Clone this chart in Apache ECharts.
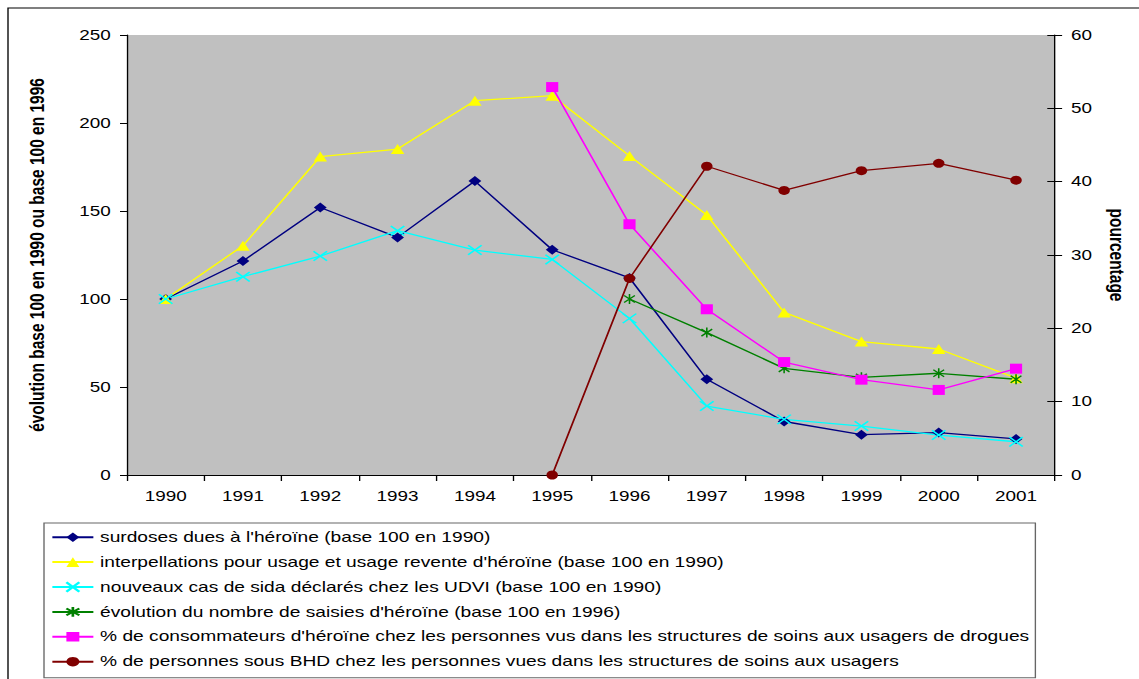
<!DOCTYPE html>
<html><head><meta charset="utf-8">
<script src="https://cdn.jsdelivr.net/npm/echarts@6/dist/echarts.min.js"></script>
<style>
html,body{margin:0;padding:0;background:#fff;overflow:hidden;width:1139px;height:679px}
#wrap{width:844px;height:679px;transform:scaleX(1.34953);transform-origin:0 0}
</style></head><body><div id="wrap"></div>
<script>
// ---- data ----
const years = ['1990','1991','1992','1993','1994','1995','1996','1997','1998','1999','2000','2001'];
const surdoses        = [100, 121.6, 152, 135, 167, 128, 112, 54.4, 30.4, 22.9, 24.1, 20.5];
const interpellations = [100, 130.3, 180.9, 185.2, 212.7, 215.5, 181.3, 147.7, 92.4, 75.8, 71.6, 55];
const sida            = [100, 112.7, 124.4, 138.8, 127.8, 122.5, 89, 39.2, 31.6, 27.8, 22.7, 18.9];
const saisies         = [null, null, null, null, null, null, 100, 80.9, 60.6, 55.5, 57.8, 54.4];
const consommateurs   = [null, null, null, null, null, 52.9, 34.2, 22.6, 15.4, 13, 11.6, 14.5];
const bhd             = [null, null, null, null, null, 0, 26.8, 42.1, 38.8, 41.5, 42.5, 40.2];
const leftTicks  = {min: 0, max: 250, interval: 50};
const rightTicks = {min: 0, max: 60, interval: 10};
const names = [
  "surdoses dues à l'héroïne (base 100 en 1990)",
  "interpellations pour usage et usage revente d'héroïne (base 100 en 1990)",
  "nouveaux cas de sida déclarés chez les UDVI (base 100 en 1990)",
  "évolution du nombre de saisies d'héroïne (base 100 en 1996)",
  "% de consommateurs d'héroïne chez les personnes vus dans les structures de soins aux usagers de drogues",
  "% de personnes sous BHD chez les personnes vues dans les structures de soins aux usagers"
];
const leftName = "évolution base 100 en 1990 ou base 100 en 1996";
const rightName = "pourcentage";

// ---- layout (chart is drawn narrower then stretched horizontally like the reference) ----
const W = 844, SX = 1139 / W;
const px = v => v / SX;
const FONT = "'Liberation Sans', Arial, sans-serif";

const chart = echarts.init(document.getElementById('wrap'), null, {renderer: 'svg', width: W, height: 679});

function mk(name, data, yIdx, color, symbol, size, extraItem) {
  return {
    name, type: 'line', data, yAxisIndex: yIdx,
    symbol, symbolSize: size, showAllSymbol: true,
    lineStyle: {color, width: 1.3},
    itemStyle: Object.assign({color, borderWidth: 0}, extraItem || {}),
    emphasis: {disabled: true},
    animation: false
  };
}

const crossPath = 'path://M0,0L10,10M10,0L0,10';
const starPath = 'path://M5,0L5,10M0.8,1.5L9.2,8.5M9.2,1.5L0.8,8.5';

chart.setOption({
  animation: false,
  textStyle: {fontFamily: FONT},
  grid: {left: px(127), right: W - px(1057), top: 35, bottom: 679 - 475,
         show: true, backgroundColor: '#C0C0C0', borderWidth: 0},
  graphic: [{type: 'rect', z: 0, silent: true,
             shape: {x: px(8), y: 8, width: 1000, height: 800},
             style: {fill: 'none', stroke: '#000', lineWidth: 1}}],
  legend: {
    orient: 'vertical', left: px(44), top: 523,
    padding: [7.2, 5, 9, 5.2], itemGap: 10.9,
    itemWidth: px(41), itemHeight: 12,
    backgroundColor: '#fff', borderColor: '#666', borderWidth: 1,
    textStyle: {fontFamily: FONT, fontSize: 14.2, color: '#000'},
    data: names
  },
  xAxis: {
    type: 'category', data: years, boundaryGap: true,
    axisLine: {lineStyle: {color: '#000', width: 1}},
    axisTick: {show: true, length: 6, lineStyle: {color: '#000'}},
    axisLabel: {margin: 14, fontSize: 14, color: '#000', fontFamily: FONT},
    splitLine: {show: false}
  },
  yAxis: [
    Object.assign({
      type: 'value', position: 'left',
      axisLine: {show: true, lineStyle: {color: '#000', width: 1}},
      axisTick: {show: true, length: 5.2, lineStyle: {color: '#000'}},
      axisLabel: {margin: 12, fontSize: 14, color: '#000', fontFamily: FONT},
      splitLine: {show: false},
      name: leftName, nameLocation: 'middle', nameGap: 59,
      nameTextStyle: {fontFamily: FONT, fontSize: 15.5, fontWeight: 'bold', color: '#000'}
    }, leftTicks),
    Object.assign({
      type: 'value', position: 'right',
      axisLine: {show: true, lineStyle: {color: '#000', width: 1}},
      axisTick: {show: true, length: 5.5, lineStyle: {color: '#000'}},
      axisLabel: {margin: 12, fontSize: 14, color: '#000', fontFamily: FONT},
      splitLine: {show: false},
      name: rightName, nameLocation: 'middle', nameGap: 36, nameRotate: -90,
      nameTextStyle: {fontFamily: FONT, fontSize: 15.5, fontWeight: 'bold', color: '#000'}
    }, rightTicks),
    Object.assign({
      type: 'value', position: 'right',
      axisLine: {show: false},
      axisTick: {show: true, inside: true, length: 5.5, lineStyle: {color: '#000'}},
      axisLabel: {show: false},
      splitLine: {show: false}
    }, rightTicks)
  ],
  series: [
    mk(names[0], surdoses, 0, '#000080', 'diamond', [9.5, 10]),
    mk(names[1], interpellations, 0, '#FFFF00', 'triangle', [10, 10]),
    mk(names[2], sida, 0, '#00FFFF', crossPath, [10, 9.5], {borderColor: '#00FFFF', borderWidth: 1.4}),
    mk(names[3], saisies, 0, '#008000', starPath, [8, 10], {borderColor: '#008000', borderWidth: 1.3}),
    mk(names[4], consommateurs, 1, '#FF00FF', 'rect', [9, 10]),
    mk(names[5], bhd, 1, '#800000', 'circle', [8.5, 9])
  ]
});
</script></body></html>
